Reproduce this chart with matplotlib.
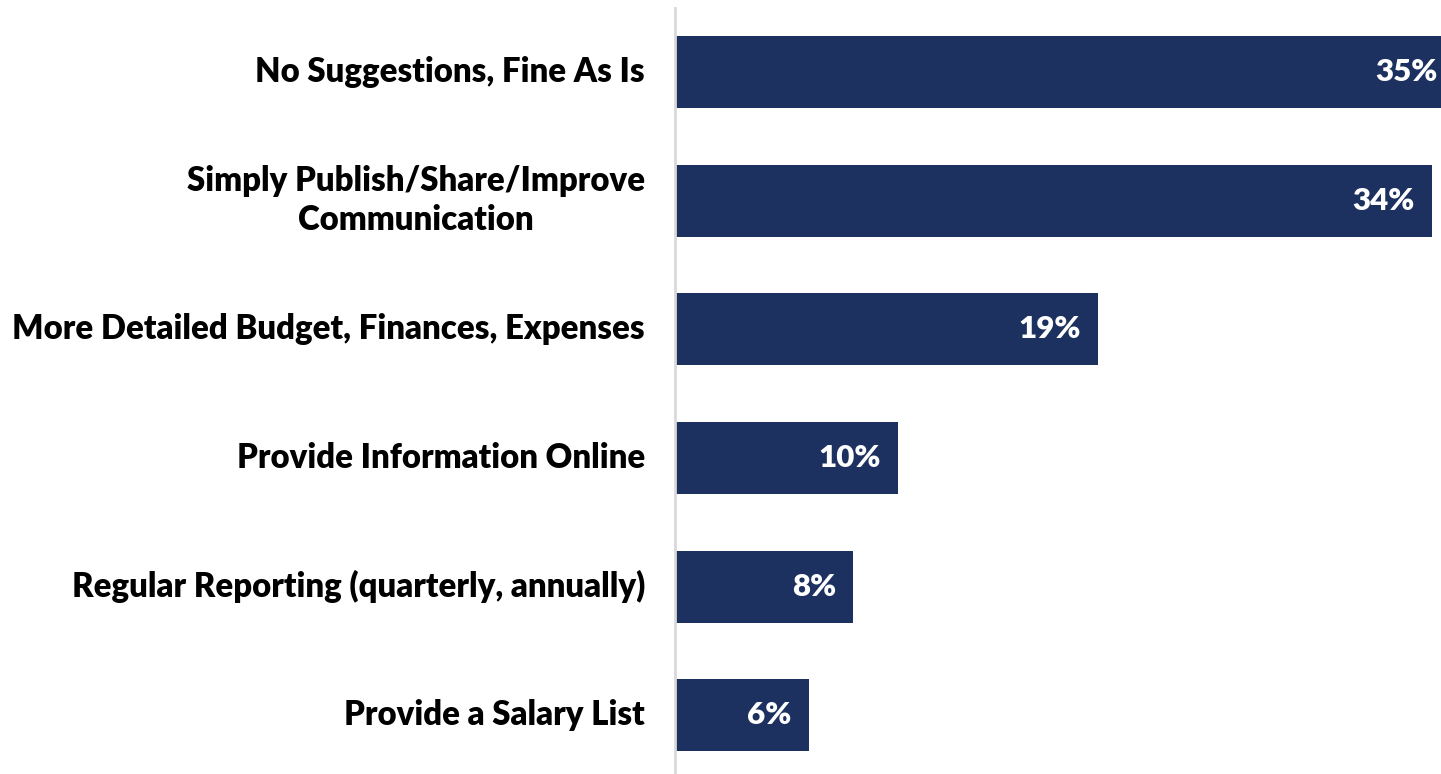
import matplotlib
matplotlib.use('Agg')
from matplotlib import pyplot as plt

categories  = ['No Suggestions, Fine As Is',
               'Simply Publish/Share/Improve\nCommunication',
               'More Detailed Budget, Finances, Expenses',
               'Provide Information Online',
               'Regular Reporting (quarterly, annually)',
               'Provide a Salary List']
values      = [35, 34, 19, 10, 8, 6]
val_labels  = ['35%', '34%', '19%', '10%', '8%', '6%']

bar_color   = '#1c3160'
plt.rcParams['font.family'] = ['Lato', 'DejaVu Sans']

fig = plt.figure(figsize=(14.41, 7.74), dpi=100)
ax  = fig.add_axes([675/1441, 0, 766/1441, 766/774])

ypos = list(range(len(categories)))
ax.barh(ypos, values, height=0.56, color=bar_color, zorder=2)
ax.set_xlim(0, 34.4)
ax.set_ylim(5.455, -0.497)

for y, v, lab in zip(ypos, values, val_labels):
    ax.annotate(lab, xy=(v, y), xytext=(-17, 0), textcoords='offset pixels',
                ha='right', va='center', color='white', fontsize=22.5,
                fontweight='heavy', annotation_clip=False)

for y, cat in zip(ypos, categories):
    ax.annotate(cat, xy=(0, y), xytext=(-30, 0), textcoords='offset pixels',
                ha='right', va='center', multialignment='center',
                color='black', fontsize=23.7, fontweight='heavy',
                linespacing=1.25, annotation_clip=False)

for s in ['top', 'right', 'bottom']:
    ax.spines[s].set_visible(False)
ax.spines['left'].set_color('#d9d9d9')
ax.spines['left'].set_linewidth(2)
ax.set_xticks([])
ax.set_yticks([])

fig.savefig('out.png', dpi=100)
